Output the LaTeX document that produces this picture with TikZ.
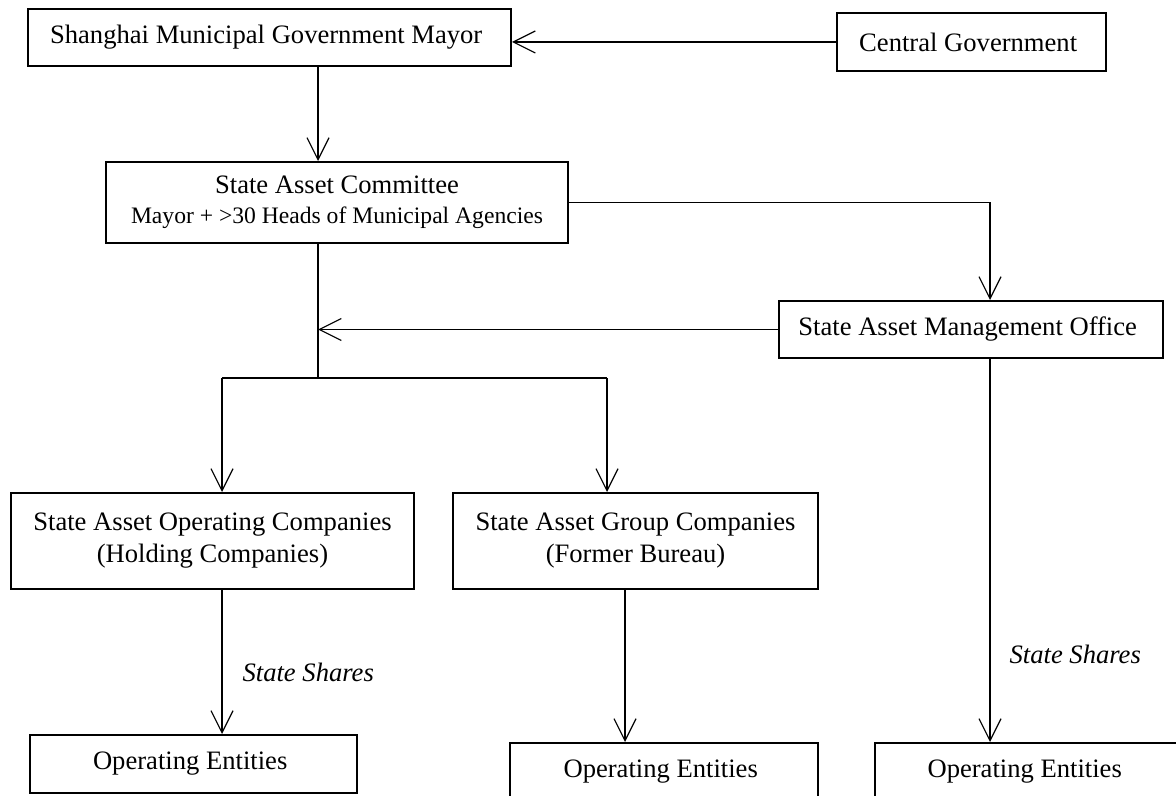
\documentclass[tikz,border=0pt]{standalone}
\usepackage{fontspec}
\setmainfont{Liberation Serif}
\usetikzlibrary{arrows.meta, positioning}

\begin{document}
\begin{tikzpicture}[
    x=0.5pt, y=-0.5pt,
    box/.style={
        draw,
        line width=1pt,
        align=center,
        inner sep=0pt,
        font=\fontsize{13.3}{16}\selectfont
    },
    arrow/.style={-{Straight Barb[length=11pt, width=11pt]}, line width=0.6pt},
    link/.style={line width=0.6pt},
    shares/.style={anchor=west, inner sep=0pt, font=\fontsize{13.3}{16}\selectfont\itshape}
]
\useasboundingbox (0,0) rectangle (1176,796);

% ------------------------
% Top level
% ------------------------
\node[box, minimum width=241.5pt, minimum height=28.5pt] (mayor) at (269.5,37.5) {
Shanghai Municipal Government Mayor
};

\node[box, minimum width=134.5pt, minimum height=29pt] (central) at (971.5,42) {
Central Government
};

% ------------------------
% Committee and office
% ------------------------
\node[box, minimum width=231pt, minimum height=40.5pt] (committee) at (337,202.5) {
State Asset Committee\\[-1pt]
{\fontsize{11.8}{14}\selectfont Mayor + >30 Heads of Municipal Agencies}
};

\node[box, minimum width=192pt, minimum height=28.5pt] (office) at (971,329.5) {
State Asset Management Office
};

% ------------------------
% Companies
% ------------------------
\node[box, minimum width=201.5pt, minimum height=48pt] (holding) at (212.5,541) {
State Asset Operating Companies\\
(Holding Companies)
};

\node[box, minimum width=182.5pt, minimum height=48pt] (group) at (635.5,541) {
State Asset Group Companies\\
(Former Bureau)
};

% ------------------------
% Operating entities
% ------------------------
\node[box, minimum width=163.5pt, minimum height=29pt] (entA) at (193.5,764) {
Operating Entities
};

\node[box, minimum width=154pt, minimum height=29pt] (entB) at (664,772) {
Operating Entities
};

\node[box, minimum width=153pt, minimum height=29pt] (entC) at (1028,772) {
Operating Entities
};

% ------------------------
% Connector columns
% ------------------------
\coordinate (colmain) at (318,0);
\coordinate (coloffice) at (990,0);
\coordinate (colgroup) at (625,0);
\coordinate (splitL) at (222,378);
\coordinate (splitR) at (607,378);

% ------------------------
% Arrows
% ------------------------
\draw[arrow] (central.west) -- (central.west -| mayor.east);
\draw[arrow] (colmain |- mayor.south) -- (colmain |- committee.north);
\draw[arrow] (committee.east) -| (coloffice |- office.north);
\draw[arrow] (office.west) -- (colmain |- office.west);

\draw[link] (colmain |- committee.south) -- (colmain |- splitL);
\draw[link] (splitL) -- (splitR);
\draw[arrow] (splitL) -- (splitL |- holding.north);
\draw[arrow] (splitR) -- (splitR |- group.north);

\draw[arrow] (splitL |- holding.south) -- (splitL |- entA.north)
    node[shares, pos=0.57, xshift=10pt] (sharesA) {State Shares};
\draw[arrow] (colgroup |- group.south) -- (colgroup |- entB.north);
\draw[arrow] (coloffice |- office.south) -- (coloffice |- entC.north)
    node[shares, pos=0.77, xshift=9.5pt] (sharesC) {State Shares};

\end{tikzpicture}
\end{document}
